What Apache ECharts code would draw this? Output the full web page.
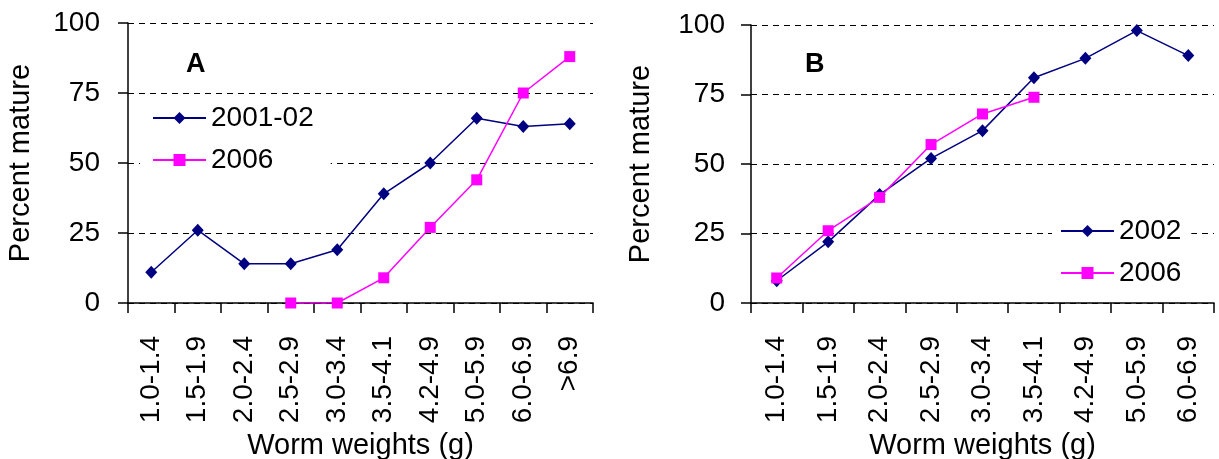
<!DOCTYPE html>
<html>
<head>
<meta charset="utf-8">
<script src="https://cdn.jsdelivr.net/npm/echarts@6/dist/echarts.min.js"></script>
<style>
html,body{margin:0;padding:0;background:#fff;}
#c{width:1219px;height:459px;}
</style>
</head>
<body>
<div id="c"></div>
<script>
const categoriesA = ['1.0-1.4','1.5-1.9','2.0-2.4','2.5-2.9','3.0-3.4','3.5-4.1','4.2-4.9','5.0-5.9','6.0-6.9','>6.9'];
const valuesA2001 = [11, 26, 14, 14, 19, 39, 50, 66, 63, 64];
const valuesA2006 = [null, null, null, 0, 0, 9, 27, 44, 75, 88];
const categoriesB = ['1.0-1.4','1.5-1.9','2.0-2.4','2.5-2.9','3.0-3.4','3.5-4.1','4.2-4.9','5.0-5.9','6.0-6.9'];
const valuesB2002 = [8, 22, 39, 52, 62, 81, 88, 98, 89];
const valuesB2006 = [9, 26, 38, 57, 68, 74];
const yTickValues = [0, 25, 50, 75, 100];

const FONT = '"Liberation Sans", Arial, sans-serif';
const NAVY = '#000080';
const MAGENTA = '#FF00FF';

function xAxis(gridIndex, cats) {
  return {
    type: 'category', gridIndex: gridIndex, data: cats, boundaryGap: true,
    name: 'Worm weights (g)', nameLocation: 'middle', nameGap: 128,
    nameTextStyle: {fontFamily: FONT, fontSize: 29, color: '#000'},
    axisLine: {show: true, lineStyle: {color: '#000', width: 1.5}},
    axisTick: {show: true, interval: 0, length: 10, lineStyle: {color: '#000', width: 1.5}},
    axisLabel: {interval: 0, rotate: 90, margin: 33, fontFamily: FONT, fontSize: 28, color: '#000'},
    splitLine: {show: false}
  };
}
function yAxis(gridIndex, nameGap, labelMargin) {
  return {
    type: 'value', gridIndex: gridIndex, min: yTickValues[0], max: yTickValues[yTickValues.length - 1],
    interval: yTickValues[1] - yTickValues[0],
    name: 'Percent mature', nameLocation: 'middle', nameGap: nameGap,
    nameTextStyle: {fontFamily: FONT, fontSize: 29, color: '#000'},
    axisLine: {show: true, lineStyle: {color: '#000', width: 1.5}},
    axisTick: {show: true, length: 10, lineStyle: {color: '#000', width: 1.5}},
    axisLabel: {margin: labelMargin, fontFamily: FONT, fontSize: 28, color: '#000'},
    splitLine: {show: true, lineStyle: {color: '#000', width: 1, type: [6, 5]}}
  };
}
function lineSeries(name, xi, data, color, symbol, size) {
  return {
    type: 'line', name: name, xAxisIndex: xi, yAxisIndex: xi, data: data,
    symbol: symbol, symbolSize: size, connectNulls: false,
    lineStyle: {color: color, width: 1.5},
    itemStyle: {color: color, borderWidth: 0},
    emphasis: {disabled: true},
    animation: false
  };
}

const chart = echarts.init(document.getElementById('c'), null, {renderer: 'canvas'});
chart.setOption({
  backgroundColor: '#fff',
  animation: false,
  title: [
    {text: 'A', left: 186, top: 51, padding: 0, textStyle: {fontFamily: FONT, fontSize: 27, fontWeight: 'bold', color: '#000'}},
    {text: 'B', left: 805, top: 51, padding: 0, textStyle: {fontFamily: FONT, fontSize: 27, fontWeight: 'bold', color: '#000'}}
  ],
  grid: [
    {left: 128, right: 626, top: 23, bottom: 156, containLabel: false, outerBoundsMode: 'none'},
    {left: 751, right: 5, top: 25, bottom: 156, containLabel: false, outerBoundsMode: 'none'}
  ],
  xAxis: [xAxis(0, categoriesA), xAxis(1, categoriesB)],
  yAxis: [yAxis(0, 93, 28), yAxis(1, 96, 26)],
  legend: [
    {orient: 'vertical', left: 140, top: 96, padding: [8, 17, 8, 12], backgroundColor: '#fff',
     itemWidth: 53, itemHeight: 15, itemGap: 14, selectedMode: false,
     textStyle: {fontFamily: FONT, fontSize: 28, color: '#000'},
     data: ['2001-02', '2006']},
    {orient: 'vertical', left: 1052, top: 211, padding: [6, 10, 6, 8], backgroundColor: '#fff',
     itemWidth: 53, itemHeight: 15, itemGap: 14, selectedMode: false,
     textStyle: {fontFamily: FONT, fontSize: 28, color: '#000'},
     data: ['2002', '2006']}
  ],
  series: [
    lineSeries('2001-02', 0, valuesA2001, NAVY, 'diamond', [12, 13]),
    lineSeries('2006', 0, valuesA2006, MAGENTA, 'rect', 11),
    lineSeries('2002', 1, valuesB2002, NAVY, 'diamond', [12, 13]),
    lineSeries('2006', 1, valuesB2006, MAGENTA, 'rect', 11)
  ]
});
</script>
</body>
</html>
